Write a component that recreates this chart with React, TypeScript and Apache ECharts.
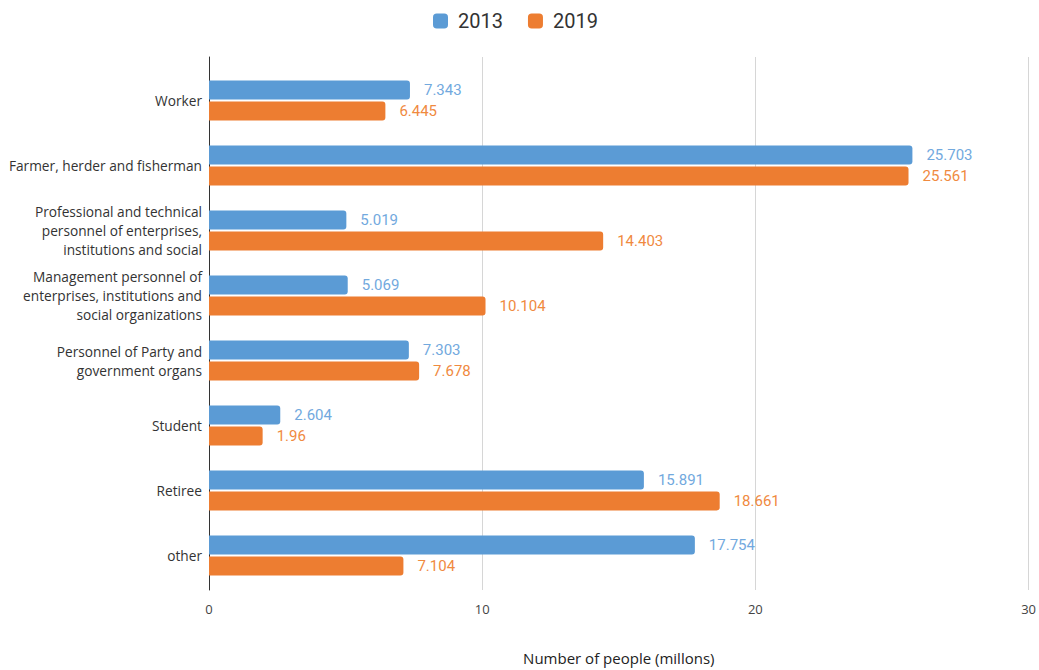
import React, { useEffect, useRef } from "react";
import * as echarts from "echarts";

const categories = [
  "Worker",
  "Farmer, herder and fisherman",
  "Professional and technical\npersonnel of enterprises,\ninstitutions and social",
  "Management personnel of\nenterprises, institutions and\nsocial organizations",
  "Personnel of Party and\ngovernment organs",
  "Student",
  "Retiree",
  "other",
];
const values2013 = [7.343, 25.703, 5.019, 5.069, 7.303, 2.604, 15.891, 17.754];
const values2019 = [6.445, 25.561, 14.403, 10.104, 7.678, 1.96, 18.661, 7.104];
const seriesNames = ["2013", "2019"];
const axisTitle = "Number of people (millons)";

export default function App() {
  const ref = useRef<HTMLDivElement>(null);
  useEffect(() => {
    if (!ref.current) return;
    const chart = echarts.init(ref.current, undefined, { renderer: "svg" });
    const barColors = ["#5b9bd5", "#ed7d31"];
    const labelColors = ["#72a9de", "#f08a3f"];
    chart.setOption({
      animation: false,
      legend: {
        top: 6,
        left: 428,
        itemWidth: 15,
        itemHeight: 15,
        itemGap: 25,
        icon: "roundRect",
        textStyle: { fontFamily: "Roboto", fontSize: 20, color: "#333", padding: [0, 0, 0, 5] },
        data: seriesNames,
      },
      grid: [
        { left: 209, right: 9, top: 68, bottom: 82 },
        { left: 209, right: 9, top: 57, bottom: 70 },
      ],
      xAxis: [
        {
          gridIndex: 0,
          type: "value",
          min: 0,
          max: 30,
          interval: 10,
          axisLabel: { show: false },
          axisLine: { show: false },
          axisTick: { show: false },
          splitLine: { show: false },
        },
        {
          gridIndex: 1,
          type: "value",
          min: 0,
          max: 30,
          interval: 10,
          axisLabel: { margin: 12, fontFamily: "Open Sans", fontSize: 13, color: "#444" },
          axisLine: { show: false },
          axisTick: { show: false },
          splitLine: { show: true, lineStyle: { color: "#d6d6d6", width: 1 } },
          name: axisTitle,
          nameLocation: "middle",
          nameGap: 60,
          nameTextStyle: { fontFamily: "Open Sans", fontSize: 15, color: "#222" },
        },
      ],
      yAxis: [
        {
          gridIndex: 0,
          type: "category",
          inverse: true,
          data: categories,
          axisLine: { show: false },
          axisTick: { show: false },
          axisLabel: {
            margin: 7,
            fontFamily: "Open Sans",
            fontSize: 13.7,
            lineHeight: 19,
            color: "#333",
            align: "right",
          },
        },
        {
          gridIndex: 1,
          type: "value",
          min: 0,
          max: 1,
          axisLabel: { show: false },
          axisTick: { show: false },
          splitLine: { show: false },
          axisLine: { show: true, lineStyle: { color: "#333", width: 1 } },
        },
      ],
      series: [values2013, values2019].map((vals, i) => ({
        name: seriesNames[i],
        type: "bar",
        xAxisIndex: 0,
        yAxisIndex: 0,
        data: vals,
        barWidth: 19,
        barGap: "10%",
        itemStyle: { color: barColors[i], borderRadius: [0, 3, 3, 0] },
        label: {
          show: true,
          position: "right",
          distance: 14,
          fontFamily: "Roboto",
          fontSize: 15,
          color: labelColors[i],
        },
      })),
    });
    return () => chart.dispose();
  }, []);
  return (
    <div
      ref={ref}
      style={{ position: "fixed", left: 0, top: 0, width: 1039, height: 670, background: "#fff" }}
    />
  );
}
